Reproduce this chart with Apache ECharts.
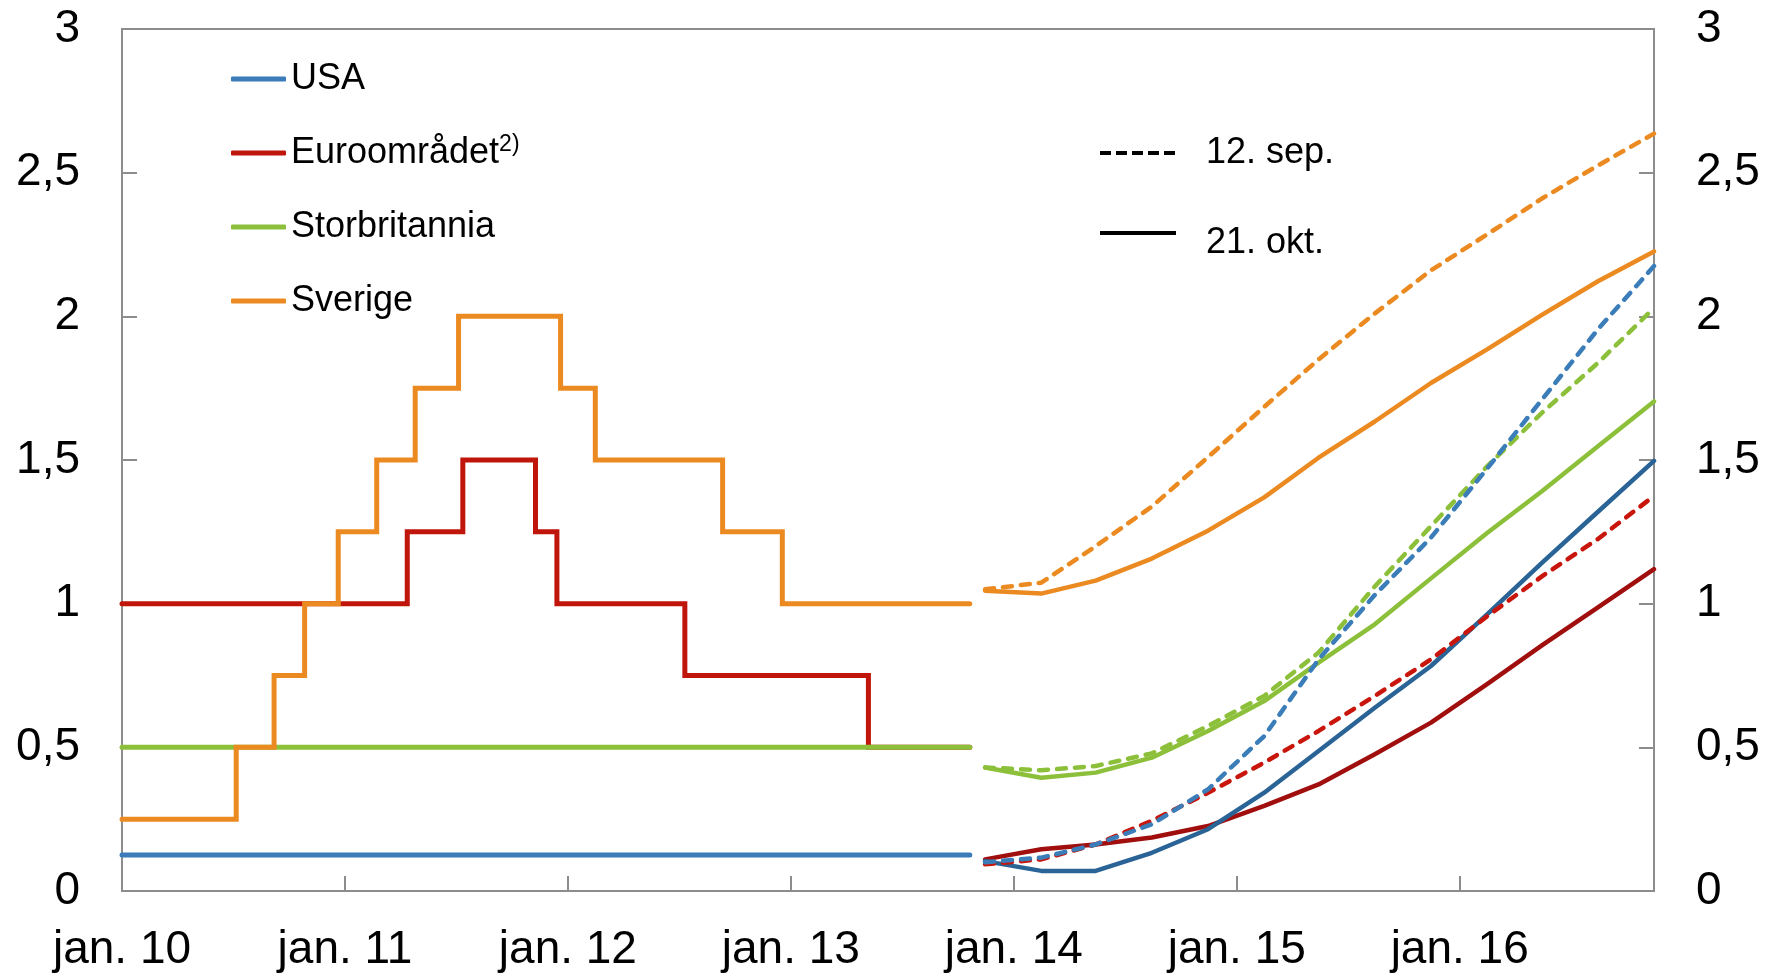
<!DOCTYPE html>
<html>
<head>
<meta charset="utf-8">
<script src="https://cdn.jsdelivr.net/npm/echarts@6/dist/echarts.min.js"></script>
<style>
  html, body { margin: 0; padding: 0; background: #fff; }
  #chart { width: 1779px; height: 976px; }
</style>
</head>
<body>
<div id="chart"></div>
<script>
// ---- Data ----
// Historical policy rates (step changes, value holds until next date)
const usaDates = ['2010-01-01', '2013-10-21'];
const usaRates = [0.125, 0.125];
const euroDates = ['2010-01-01', '2011-04-13', '2011-07-13', '2011-11-09', '2011-12-14', '2012-07-11', '2013-05-08', '2013-10-21'];
const euroRates = [1.0, 1.25, 1.5, 1.25, 1.0, 0.75, 0.5, 0.5];
const ukDates = ['2010-01-01', '2013-10-21'];
const ukRates = [0.5, 0.5];
const sverigeDates = ['2010-01-01', '2010-07-07', '2010-09-07', '2010-10-27', '2010-12-21', '2011-02-22', '2011-04-26', '2011-07-06', '2011-12-20', '2012-02-15', '2012-09-11', '2012-12-18', '2013-10-21'];
const sverigeRates = [0.25, 0.5, 0.75, 1.0, 1.25, 1.5, 1.75, 2.0, 1.75, 1.5, 1.25, 1.0, 1.0];

// Forward rates, quarterly points
const fwdDates = ['2013-11-15', '2014-02-15', '2014-05-15', '2014-08-15', '2014-11-15', '2015-02-15', '2015-05-15', '2015-08-15', '2015-11-15', '2016-02-15', '2016-05-15', '2016-08-15', '2016-11-15'];
const usaSep = [0.10, 0.116, 0.162, 0.232, 0.354, 0.539, 0.806, 1.03, 1.23, 1.47, 1.71, 1.955, 2.175];
const usaOkt = [0.104, 0.07, 0.07, 0.133, 0.215, 0.342, 0.487, 0.638, 0.783, 0.963, 1.142, 1.32, 1.497];
const euroSep = [0.093, 0.11, 0.162, 0.244, 0.342, 0.447, 0.557, 0.679, 0.806, 0.956, 1.095, 1.225, 1.375];
const euroOkt = [0.11, 0.145, 0.162, 0.186, 0.226, 0.296, 0.371, 0.476, 0.586, 0.72, 0.855, 0.987, 1.12];
const ukSep = [0.43, 0.42, 0.435, 0.479, 0.574, 0.679, 0.83, 1.06, 1.27, 1.478, 1.664, 1.838, 2.029];
const ukOkt = [0.43, 0.394, 0.412, 0.464, 0.557, 0.661, 0.795, 0.928, 1.088, 1.246, 1.391, 1.548, 1.704];
const sverigeSep = [1.05, 1.073, 1.2, 1.338, 1.51, 1.685, 1.85, 2.01, 2.16, 2.285, 2.41, 2.525, 2.636];
const sverigeOkt = [1.045, 1.035, 1.08, 1.157, 1.254, 1.37, 1.508, 1.634, 1.768, 1.885, 2.005, 2.122, 2.226];

// Labels
const countryNames = ['USA', 'Euroområdet', 'Storbritannia', 'Sverige'];
const dateLegend = ['12. sep.', '21. okt.'];
const yTicks = [0, 0.5, 1, 1.5, 2, 2.5, 3];

// ---- helpers ----
function toYear(s) {
  const [y, m, d] = s.split('-').map(Number);
  const t = Date.UTC(y, m - 1, d), a = Date.UTC(y, 0, 1), b = Date.UTC(y + 1, 0, 1);
  return y + (t - a) / (b - a);
}
function pairs(dates, vals) { return dates.map((d, i) => [toYear(d), vals[i]]); }

const FONT = '"Liberation Sans", Arial, sans-serif';
const AX = '#8C8C8C';
const C = {
  usaH: '#3B7BBA', usaS: '#2A6496', usaD: '#3A7DB8',
  euroH: '#C0150B', euroS: '#A10E0E', euroD: '#C8160C',
  uk: '#8DC03A', sv: '#EC8A22'
};

function hist(name, dates, vals, color) {
  return {
    name, type: 'line', step: 'end', data: pairs(dates, vals),
    symbol: 'none', showSymbol: false, color, itemStyle: { color },
    lineStyle: { color, width: 5, join: 'miter', cap: 'round' }, z: 2
  };
}
function fwd(name, vals, color, dashed) {
  return {
    name, type: 'line', data: pairs(fwdDates, vals),
    symbol: 'none', showSymbol: false, color, itemStyle: { color },
    lineStyle: dashed ? { color, width: 4.5, type: [9, 9], cap: 'round', join: 'round' }
                      : { color, width: 4.5, join: 'round', cap: 'round' },
    z: dashed ? 4 : 3
  };
}

const xMin = 2010, xMax = toYear(fwdDates[fwdDates.length - 1]);

const yAxisCommon = {
  type: 'value', min: yTicks[0], max: yTicks[yTicks.length - 1], interval: 0.5,
  splitLine: { show: false },
  axisLine: { show: true, lineStyle: { color: AX, width: 2 } },
  axisTick: { show: true, inside: true, length: 15, lineStyle: { color: AX, width: 2 } },
  axisLabel: { fontFamily: FONT, fontSize: 46, color: '#000', margin: 42,
               formatter: v => String(v).replace('.', ',') }
};

const hiddenSymbol = { color: 'rgba(0,0,0,0)', borderColor: 'rgba(0,0,0,0)', borderWidth: 0, opacity: 0 };

const option = {
  animation: false,
  backgroundColor: '#fff',
  grid: { left: 122, right: 125, top: 29, bottom: 85, show: true, borderColor: AX, borderWidth: 2 },
  xAxis: {
    type: 'value', min: xMin, max: xMax, interval: 1,
    splitLine: { show: false },
    axisLine: { show: true, lineStyle: { color: AX, width: 2 } },
    axisTick: { show: true, inside: true, length: 15, lineStyle: { color: AX, width: 2 } },
    axisLabel: {
      fontFamily: FONT, fontSize: 46, color: '#000', margin: 36,
      formatter: v => (Math.abs(v - Math.round(v)) < 1e-6 ? 'jan. ' + String(Math.round(v)).slice(2) : '')
    }
  },
  yAxis: [
    Object.assign({ position: 'left' }, yAxisCommon),
    Object.assign({ position: 'right' }, yAxisCommon)
  ],
  legend: [
    {
      data: countryNames, orient: 'vertical', left: 226, top: 54,
      itemWidth: 55, itemHeight: 5, itemGap: 34, icon: 'roundRect',
      selectedMode: false,
      formatter: n => (n === 'Euroområdet' ? 'Euroområdet{sup|2)}' : n),
      textStyle: {
        fontFamily: FONT, fontSize: 36, color: '#000', lineHeight: 40,
        rich: { sup: { fontFamily: FONT, fontSize: 23, lineHeight: 22, verticalAlign: 'top', color: '#000' } }
      }
    },
    {
      data: [dateLegend[0]], orient: 'vertical', left: 1093, top: 128,
      itemWidth: 76, itemHeight: 14, selectedMode: false, itemStyle: hiddenSymbol,
      lineStyle: { width: 4, color: '#000' },
      textStyle: { fontFamily: FONT, fontSize: 36, color: '#000', lineHeight: 40, padding: [0, 0, 0, 25] }
    },
    {
      data: [dateLegend[1]], orient: 'vertical', left: 1093, top: 200,
      itemWidth: 76, itemHeight: 14, selectedMode: false, itemStyle: hiddenSymbol,
      lineStyle: { width: 4, color: '#000' },
      formatter: n => '{t|' + n + '}',
      textStyle: {
        fontFamily: FONT, fontSize: 36, color: '#000', lineHeight: 40, padding: [0, 0, 0, 25],
        rich: { t: { fontFamily: FONT, fontSize: 36, color: '#000', lineHeight: 40, padding: [20, 0, 0, 0] } }
      }
    }
  ],
  series: [
    hist('USA', usaDates, usaRates, C.usaH),
    hist('Euroområdet', euroDates, euroRates, C.euroH),
    hist('Storbritannia', ukDates, ukRates, C.uk),
    hist('Sverige', sverigeDates, sverigeRates, C.sv),
    fwd('Sverige 21. okt.', sverigeOkt, C.sv, false),
    fwd('Storbritannia 21. okt.', ukOkt, C.uk, false),
    fwd('Euroområdet 21. okt.', euroOkt, C.euroS, false),
    fwd('USA 21. okt.', usaOkt, C.usaS, false),
    fwd('Sverige 12. sep.', sverigeSep, C.sv, true),
    fwd('Storbritannia 12. sep.', ukSep, C.uk, true),
    fwd('Euroområdet 12. sep.', euroSep, C.euroD, true),
    fwd('USA 12. sep.', usaSep, C.usaD, true),
    { name: dateLegend[0], type: 'line', data: [], symbol: 'none', color: '#000', itemStyle: { color: '#000' },
      lineStyle: { color: '#000', width: 4, type: [11, 5] } },
    { name: dateLegend[1], type: 'line', data: [], symbol: 'none', color: '#000', itemStyle: { color: '#000' },
      lineStyle: { color: '#000', width: 4, type: 'solid' } }
  ]
};

const chart = echarts.init(document.getElementById('chart'), null, { renderer: 'canvas' });
chart.setOption(option);
</script>
</body>
</html>
